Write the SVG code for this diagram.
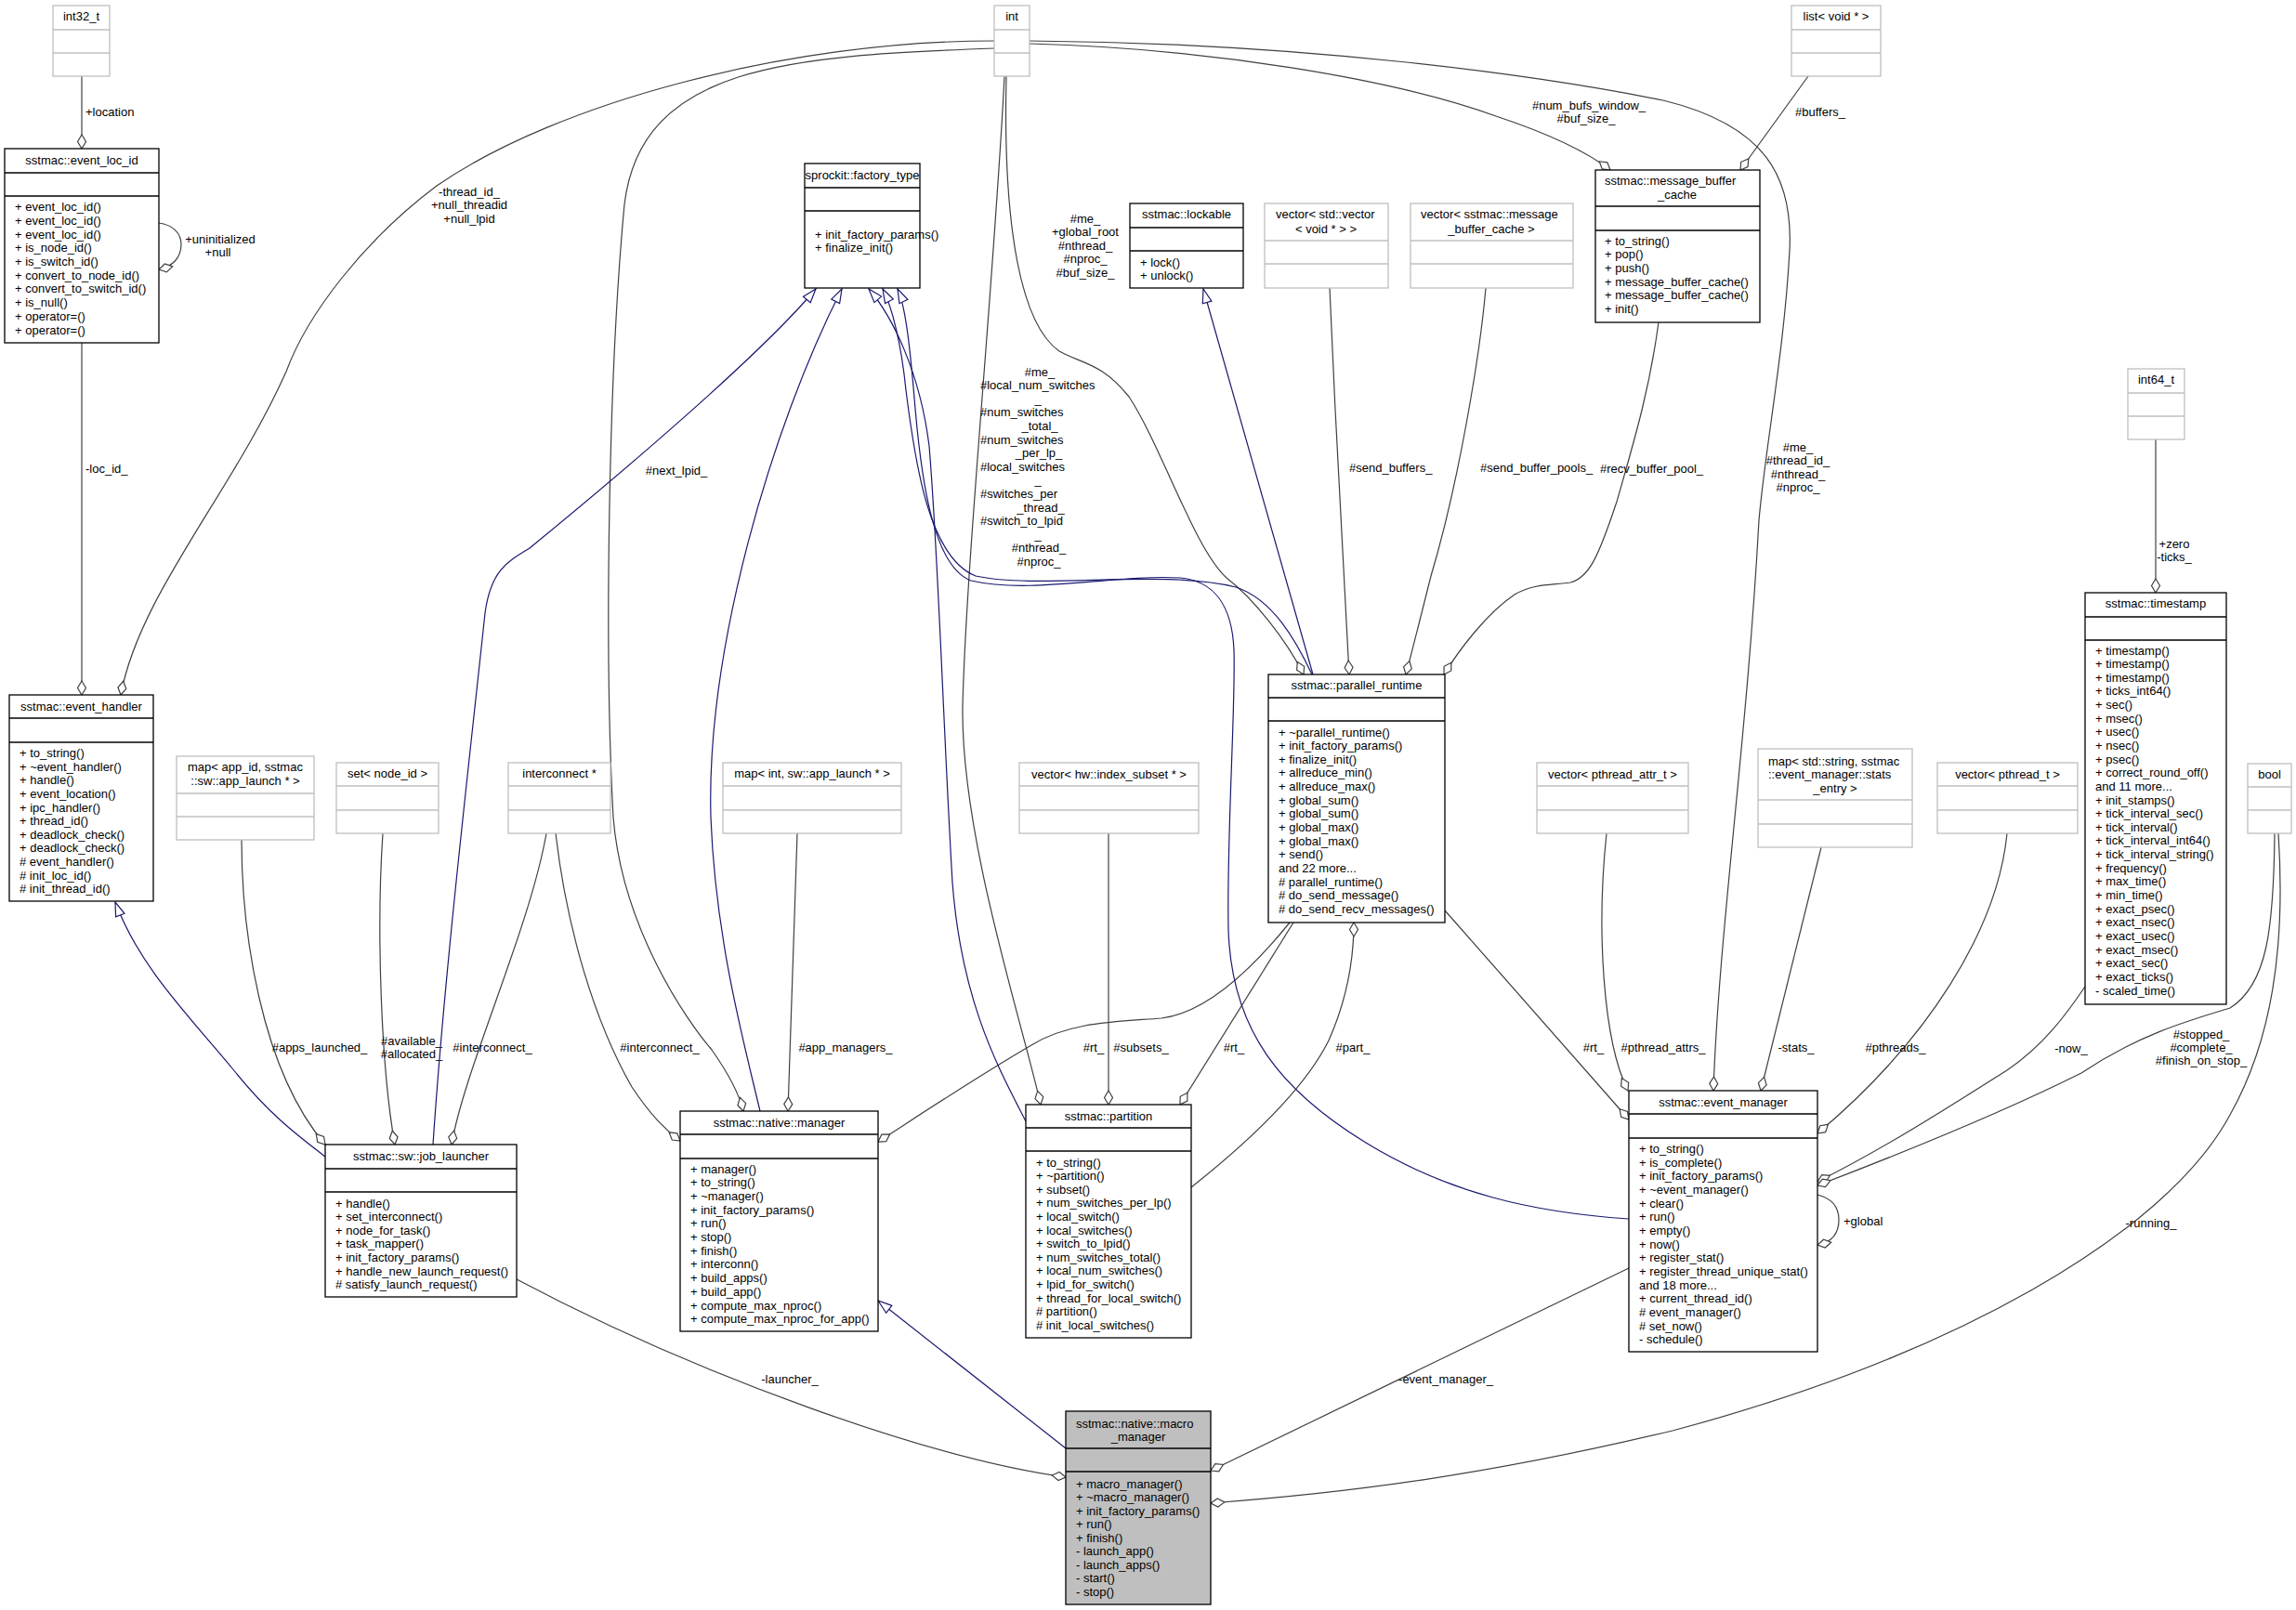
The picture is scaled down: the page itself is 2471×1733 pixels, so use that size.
<svg xmlns="http://www.w3.org/2000/svg" width="2471" height="1733" viewBox="0 0 2471 1733">
<defs>
<style>
.b{fill:#fff;stroke:#000;stroke-width:1.3}
.g{fill:#fff;stroke:#bfbfbf;stroke-width:1.3}
.bl{stroke:#000;stroke-width:1.3}
.gl{stroke:#bfbfbf;stroke-width:1.3}
text{font-family:"Liberation Sans",Arial,Helvetica,sans-serif;font-size:13px;fill:#000}
.c{text-anchor:middle}
.e{fill:none;stroke:#404040;stroke-width:1.2;marker-end:url(#d)}
.i{fill:none;stroke:#191970;stroke-width:1.2;marker-end:url(#a)}
</style>
<marker id="d" viewBox="0 -6 17 12" refX="16" refY="0" markerWidth="17" markerHeight="12" markerUnits="userSpaceOnUse" orient="auto"><path d="M1,0 L8.5,-4.5 L16,0 L8.5,4.5 Z" fill="#fff" stroke="#404040" stroke-width="1.2"/></marker>
<marker id="a" viewBox="0 -6 17 12" refX="16" refY="0" markerWidth="17" markerHeight="12" markerUnits="userSpaceOnUse" orient="auto"><path d="M1,-5 L16,0 L1,5 Z" fill="#fff" stroke="#191970" stroke-width="1.2"/></marker>
</defs>
<rect width="2471" height="1733" fill="#fff"/>
<g id="connectors">
<path class="e" d="M88,82 L88,160"/>
<text x="92" y="125">+location</text>
<path class="e" d="M171,240 C185,242 195,250 195,263 C195,278 185,287 171,290"/>
<text class="c" x="237" y="261.5">+uninitialized</text>
<text class="c" x="234.5" y="275.5">+null</text>
<path class="e" d="M88,369 L88,748"/>
<text x="92" y="508.5">-loc_id_</text>
<path class="e" d="M1070,44 C850,44 600,110 470,200 C390,260 330,340 308,400 C250,530 150,640 130,748"/>
<text class="c" x="505" y="210.5">-thread_id_</text>
<text class="c" x="505" y="225">+null_threadid</text>
<text class="c" x="505" y="239.5">+null_lpid</text>
<path class="e" d="M1070,52 C850,60 690,70 672,220 C655,400 650,700 660,880 C670,1000 740,1100 766,1130 C780,1150 795,1175 800,1196"/>
<text class="c" x="728" y="510.5">#next_lpid_</text>
<path class="e" d="M1081,82 C1070,300 1040,600 1036,760 C1034,900 1100,1100 1120,1189"/>
<text class="c" x="1119" y="404.5">#me_</text>
<text x="1055" y="419">#local_num_switches</text>
<text class="c" x="1117" y="433.5">_</text>
<text x="1055" y="448">#num_switches</text>
<text class="c" x="1119" y="463">_total_</text>
<text x="1055" y="477.5">#num_switches</text>
<text class="c" x="1118" y="492">_per_lp_</text>
<text x="1055" y="506.5">#local_switches</text>
<text class="c" x="1117" y="521">_</text>
<text x="1055" y="536">#switches_per</text>
<text class="c" x="1120" y="550.5">_thread_</text>
<text x="1055" y="565">#switch_to_lpid</text>
<text class="c" x="1117" y="579.5">_</text>
<text class="c" x="1118" y="594">#nthread_</text>
<text class="c" x="1118" y="609">#nproc_</text>
<path class="e" d="M1083,82 C1079,250 1100,350 1140,378 C1165,392 1185,390 1215,427 C1250,480 1285,590 1320,622 C1350,645 1385,690 1403,726"/>
<text class="c" x="1168" y="239.5">#me_</text>
<text class="c" x="1168" y="254">+global_root</text>
<text class="c" x="1168" y="268.5">#nthread_</text>
<text class="c" x="1168" y="283">#nproc_</text>
<text class="c" x="1168" y="297.5">#buf_size_</text>
<path class="e" d="M1108,44 C1400,46 1650,80 1790,108 C1900,135 1930,190 1926,270 C1920,380 1900,480 1893,560 C1880,800 1850,1000 1844,1174"/>
<text class="c" x="1935" y="485.5">#me_</text>
<text class="c" x="1935" y="500">#thread_id_</text>
<text class="c" x="1935" y="514.5">#nthread_</text>
<text class="c" x="1935" y="529">#nproc_</text>
<path class="e" d="M1108,47 C1300,52 1500,85 1610,125 C1670,145 1710,165 1733,183"/>
<text class="c" x="1710" y="117.5">#num_bufs_window_</text>
<text class="c" x="1707" y="131.5">#buf_size_</text>
<path class="e" d="M1946,82 L1873,183"/>
<text x="1932" y="124.5">#buffers_</text>
<path class="e" d="M1431,310 C1437,450 1445,600 1452,726"/>
<text x="1452" y="507.5">#send_buffers_</text>
<path class="e" d="M1599,310 C1593,380 1570,520 1540,620 C1530,660 1520,700 1513,726"/>
<text x="1593" y="507.5">#send_buffer_pools_</text>
<path class="e" d="M1785,347 C1775,420 1760,470 1740,540 C1720,600 1710,622 1690,627 C1670,630 1650,628 1630,640 C1600,660 1570,700 1554,726"/>
<text x="1722" y="508.5">#recv_buffer_pool_</text>
<path class="e" d="M2320,473 L2320,638"/>
<text class="c" x="2340" y="589.5">+zero</text>
<text class="c" x="2340" y="603.5">-ticks_</text>
<path class="e" d="M260,904 C260,1000 280,1150 350,1232"/>
<text class="c" x="344" y="1131.5">#apps_launched_</text>
<path class="e" d="M412,897 C405,1000 410,1150 425,1232"/>
<text class="c" x="443" y="1124.5">#available_</text>
<text class="c" x="443" y="1139">#allocated_</text>
<path class="e" d="M588,897 C570,1000 500,1150 486,1232"/>
<text class="c" x="530" y="1131.5">#interconnect_</text>
<path class="e" d="M598,897 C610,1000 640,1100 680,1170 C700,1200 715,1215 732,1228"/>
<text class="c" x="710" y="1131.5">#interconnect_</text>
<path class="e" d="M858,897 L848,1196"/>
<text class="c" x="910" y="1131.5">#app_managers_</text>
<path class="e" d="M1388,993 C1350,1040 1300,1090 1250,1096 C1200,1100 1150,1100 1110,1125 C1050,1160 990,1200 945,1229"/>
<text class="c" x="1177" y="1131.5">#rt_</text>
<path class="e" d="M1193,897 L1193,1189"/>
<text class="c" x="1228" y="1131.5">#subsets_</text>
<path class="e" d="M1392,993 L1270,1189"/>
<text class="c" x="1328" y="1131.5">#rt_</text>
<path class="e" d="M1282,1278 C1330,1240 1400,1180 1430,1120 C1450,1075 1457,1035 1457,993"/>
<text class="c" x="1456" y="1131.5">#part_</text>
<path class="e" d="M1555,980 L1753,1205"/>
<text class="c" x="1715" y="1131.5">#rt_</text>
<path class="e" d="M1729,897 C1718,1000 1725,1120 1752,1174"/>
<text class="c" x="1790" y="1131.5">#pthread_attrs_</text>
<path class="e" d="M1960,912 L1895,1174"/>
<text class="c" x="1933" y="1131.5">-stats_</text>
<path class="e" d="M2160,897 C2150,1000 2075,1120 1956,1220"/>
<text class="c" x="2040" y="1131.5">#pthreads_</text>
<path class="e" d="M2244,1062 C2225,1090 2200,1125 2160,1152 C2100,1190 2030,1235 1956,1272"/>
<text class="c" x="2229" y="1132.5">-now_</text>
<path class="e" d="M2448,897 C2447,1000 2440,1060 2400,1085 C2350,1100 2300,1115 2240,1155 C2150,1200 2050,1240 1956,1276"/>
<text class="c" x="2369" y="1117.5">#stopped_</text>
<text class="c" x="2369" y="1131.5">#complete_</text>
<text class="c" x="2369" y="1145.5">#finish_on_stop_</text>
<path class="e" d="M1956,1286 C1972,1290 1979,1300 1979,1313 C1979,1328 1972,1337 1956,1340"/>
<text x="1984" y="1318.5">+global</text>
<path class="e" d="M2452,897 C2460,1020 2445,1120 2400,1200 C2330,1330 2100,1460 1800,1540 C1600,1588 1450,1607 1303,1618"/>
<text class="c" x="2315" y="1320.5">-running_</text>
<path class="e" d="M1753,1365 L1303,1583"/>
<text class="c" x="1556" y="1488.5">-event_manager_</text>
<path class="e" d="M556,1377 C750,1480 1000,1570 1147,1590"/>
<text class="c" x="850" y="1488.5">-launcher_</text>
<path class="i" d="M350,1245 C320,1222 290,1200 250,1150 C200,1090 150,1040 124,971"/>
<path class="i" d="M466,1232 C478,1050 505,820 522,660 C528,615 545,605 570,590 C680,500 820,380 878,311"/>
<path class="i" d="M818,1196 C800,1120 770,1010 765,880 C760,700 830,460 906,311"/>
<path class="i" d="M1104,1207 C1075,1150 1035,1080 1025,950 C1015,780 1010,600 1000,480 C990,400 960,340 935,311"/>
<path class="i" d="M1412,726 C1395,690 1370,645 1330,632 C1250,612 1120,635 1050,620 C1000,600 985,500 975,420 C970,370 960,330 950,311"/>
<path class="i" d="M1753,1312 C1650,1305 1560,1285 1470,1230 C1380,1175 1325,1110 1322,1000 C1320,900 1330,760 1328,700 C1326,650 1305,625 1270,622 C1200,618 1110,640 1045,625 C1005,610 992,520 985,440 C980,380 975,330 966,311"/>
<path class="i" d="M1413,726 L1295,311"/>
<path class="i" d="M1147,1559 L945,1400"/>
</g>
<g id="int32_t"><rect class="g" x="57" y="6" width="61" height="76"/><line class="gl" x1="57" y1="32" x2="118" y2="32"/><line class="gl" x1="57" y1="57" x2="118" y2="57"/><text class="c" x="87.5" y="22">int32_t</text></g>
<g id="int"><rect class="g" x="1070" y="6" width="38" height="76"/><line class="gl" x1="1070" y1="32" x2="1108" y2="32"/><line class="gl" x1="1070" y1="57" x2="1108" y2="57"/><text class="c" x="1089" y="22">int</text></g>
<g id="list_void"><rect class="g" x="1928" y="6" width="96" height="76"/><line class="gl" x1="1928" y1="32" x2="2024" y2="32"/><line class="gl" x1="1928" y1="57" x2="2024" y2="57"/><text class="c" x="1976" y="22">list&lt; void * &gt;</text></g>
<g id="event_loc_id"><rect class="b" x="5" y="160" width="166" height="209"/><line class="bl" x1="5" y1="186" x2="171" y2="186"/><line class="bl" x1="5" y1="211" x2="171" y2="211"/><text class="c" x="88" y="177">sstmac::event_loc_id</text>
<text x="16" y="227.2">+ event_loc_id()<tspan x="16" dy="14.7">+ event_loc_id()</tspan><tspan x="16" dy="14.7">+ event_loc_id()</tspan><tspan x="16" dy="14.7">+ is_node_id()</tspan><tspan x="16" dy="14.7">+ is_switch_id()</tspan><tspan x="16" dy="14.7">+ convert_to_node_id()</tspan><tspan x="16" dy="14.7">+ convert_to_switch_id()</tspan><tspan x="16" dy="14.7">+ is_null()</tspan><tspan x="16" dy="14.7">+ operator=()</tspan><tspan x="16" dy="14.7">+ operator=()</tspan></text></g>
<g id="factory_type"><rect class="b" x="866" y="176" width="124" height="134"/><line class="bl" x1="866" y1="202" x2="990" y2="202"/><line class="bl" x1="866" y1="227" x2="990" y2="227"/><text class="c" x="928" y="193">sprockit::factory_type</text>
<text x="877" y="256.5">+ init_factory_params()<tspan x="877" dy="14.65">+ finalize_init()</tspan></text></g>
<g id="lockable"><rect class="b" x="1216" y="219" width="122" height="91"/><line class="bl" x1="1216" y1="245" x2="1338" y2="245"/><line class="bl" x1="1216" y1="270" x2="1338" y2="270"/><text class="c" x="1277" y="234.5">sstmac::lockable</text>
<text x="1227" y="286.5">+ lock()<tspan x="1227" dy="14.65">+ unlock()</tspan></text></g>
<g id="vector_vector_void"><rect class="g" x="1361" y="219" width="133" height="91"/><line class="gl" x1="1361" y1="259" x2="1494" y2="259"/><line class="gl" x1="1361" y1="284" x2="1494" y2="284"/><text x="1373" y="235">vector&lt; std::vector</text><text class="c" x="1427" y="250.5">&lt; void * &gt; &gt;</text></g>
<g id="vector_mbc"><rect class="g" x="1518" y="219" width="175" height="91"/><line class="gl" x1="1518" y1="259" x2="1693" y2="259"/><line class="gl" x1="1518" y1="284" x2="1693" y2="284"/><text x="1529" y="235">vector&lt; sstmac::message</text><text class="c" x="1605" y="250.5">_buffer_cache &gt;</text></g>
<g id="message_buffer_cache"><rect class="b" x="1717" y="183" width="177" height="164"/><line class="bl" x1="1717" y1="222" x2="1894" y2="222"/><line class="bl" x1="1717" y1="248" x2="1894" y2="248"/><text x="1727" y="198.5">sstmac::message_buffer</text><text class="c" x="1805" y="213.5">_cache</text>
<text x="1727" y="263.5">+ to_string()<tspan x="1727" dy="14.7">+ pop()</tspan><tspan x="1727" dy="14.7">+ push()</tspan><tspan x="1727" dy="14.7">+ message_buffer_cache()</tspan><tspan x="1727" dy="14.7">+ message_buffer_cache()</tspan><tspan x="1727" dy="14.7">+ init()</tspan></text></g>
<g id="int64_t"><rect class="g" x="2290" y="397" width="61" height="76"/><line class="gl" x1="2290" y1="423" x2="2351" y2="423"/><line class="gl" x1="2290" y1="448" x2="2351" y2="448"/><text class="c" x="2320.5" y="413">int64_t</text></g>
<g id="timestamp"><rect class="b" x="2244" y="638" width="152" height="443"/><line class="bl" x1="2244" y1="664" x2="2396" y2="664"/><line class="bl" x1="2244" y1="689" x2="2396" y2="689"/><text class="c" x="2320" y="654">sstmac::timestamp</text>
<text x="2255" y="704.5">+ timestamp()<tspan x="2255" dy="14.64">+ timestamp()</tspan><tspan x="2255" dy="14.64">+ timestamp()</tspan><tspan x="2255" dy="14.64">+ ticks_int64()</tspan><tspan x="2255" dy="14.64">+ sec()</tspan><tspan x="2255" dy="14.64">+ msec()</tspan><tspan x="2255" dy="14.64">+ usec()</tspan><tspan x="2255" dy="14.64">+ nsec()</tspan><tspan x="2255" dy="14.64">+ psec()</tspan><tspan x="2255" dy="14.64">+ correct_round_off()</tspan><tspan x="2255" dy="14.64">and 11 more...</tspan><tspan x="2255" dy="14.64">+ init_stamps()</tspan><tspan x="2255" dy="14.64">+ tick_interval_sec()</tspan><tspan x="2255" dy="14.64">+ tick_interval()</tspan><tspan x="2255" dy="14.64">+ tick_interval_int64()</tspan><tspan x="2255" dy="14.64">+ tick_interval_string()</tspan><tspan x="2255" dy="14.64">+ frequency()</tspan><tspan x="2255" dy="14.64">+ max_time()</tspan><tspan x="2255" dy="14.64">+ min_time()</tspan><tspan x="2255" dy="14.64">+ exact_psec()</tspan><tspan x="2255" dy="14.64">+ exact_nsec()</tspan><tspan x="2255" dy="14.64">+ exact_usec()</tspan><tspan x="2255" dy="14.64">+ exact_msec()</tspan><tspan x="2255" dy="14.64">+ exact_sec()</tspan><tspan x="2255" dy="14.64">+ exact_ticks()</tspan><tspan x="2255" dy="14.64">- scaled_time()</tspan></text></g>
<g id="bool"><rect class="g" x="2419" y="822" width="47" height="75"/><line class="gl" x1="2419" y1="847" x2="2466" y2="847"/><line class="gl" x1="2419" y1="872" x2="2466" y2="872"/><text class="c" x="2442.5" y="837.5">bool</text></g>
<g id="event_handler"><rect class="b" x="10" y="748" width="155" height="222"/><line class="bl" x1="10" y1="773" x2="165" y2="773"/><line class="bl" x1="10" y1="799" x2="165" y2="799"/><text class="c" x="87.5" y="764.5">sstmac::event_handler</text>
<text x="21" y="815.2">+ to_string()<tspan x="21" dy="14.6">+ ~event_handler()</tspan><tspan x="21" dy="14.6">+ handle()</tspan><tspan x="21" dy="14.6">+ event_location()</tspan><tspan x="21" dy="14.6">+ ipc_handler()</tspan><tspan x="21" dy="14.6">+ thread_id()</tspan><tspan x="21" dy="14.6">+ deadlock_check()</tspan><tspan x="21" dy="14.6">+ deadlock_check()</tspan><tspan x="21" dy="14.6"># event_handler()</tspan><tspan x="21" dy="14.6"># init_loc_id()</tspan><tspan x="21" dy="14.6"># init_thread_id()</tspan></text></g>
<g id="map_app_launch"><rect class="g" x="190" y="814" width="148" height="90"/><line class="gl" x1="190" y1="854" x2="338" y2="854"/><line class="gl" x1="190" y1="879" x2="338" y2="879"/><text x="202" y="830">map&lt; app_id, sstmac</text><text class="c" x="264" y="845">::sw::app_launch * &gt;</text></g>
<g id="set_node_id"><rect class="g" x="362" y="821" width="110" height="76"/><line class="gl" x1="362" y1="846" x2="472" y2="846"/><line class="gl" x1="362" y1="872" x2="472" y2="872"/><text class="c" x="417" y="837">set&lt; node_id &gt;</text></g>
<g id="interconnect"><rect class="g" x="547" y="821" width="110" height="76"/><line class="gl" x1="547" y1="846" x2="657" y2="846"/><line class="gl" x1="547" y1="872" x2="657" y2="872"/><text class="c" x="602" y="837">interconnect *</text></g>
<g id="map_int_app_launch"><rect class="g" x="778" y="821" width="192" height="76"/><line class="gl" x1="778" y1="846" x2="970" y2="846"/><line class="gl" x1="778" y1="872" x2="970" y2="872"/><text class="c" x="874" y="837">map&lt; int, sw::app_launch * &gt;</text></g>
<g id="vector_index_subset"><rect class="g" x="1097" y="821" width="193" height="76"/><line class="gl" x1="1097" y1="846" x2="1290" y2="846"/><line class="gl" x1="1097" y1="872" x2="1290" y2="872"/><text class="c" x="1193.5" y="837.5">vector&lt; hw::index_subset * &gt;</text></g>
<g id="parallel_runtime"><rect class="b" x="1365" y="726" width="190" height="267"/><line class="bl" x1="1365" y1="751" x2="1555" y2="751"/><line class="bl" x1="1365" y1="776" x2="1555" y2="776"/><text class="c" x="1460" y="742">sstmac::parallel_runtime</text>
<text x="1376" y="792.5">+ ~parallel_runtime()<tspan x="1376" dy="14.66">+ init_factory_params()</tspan><tspan x="1376" dy="14.66">+ finalize_init()</tspan><tspan x="1376" dy="14.66">+ allreduce_min()</tspan><tspan x="1376" dy="14.66">+ allreduce_max()</tspan><tspan x="1376" dy="14.66">+ global_sum()</tspan><tspan x="1376" dy="14.66">+ global_sum()</tspan><tspan x="1376" dy="14.66">+ global_max()</tspan><tspan x="1376" dy="14.66">+ global_max()</tspan><tspan x="1376" dy="14.66">+ send()</tspan><tspan x="1376" dy="14.66">and 22 more...</tspan><tspan x="1376" dy="14.66"># parallel_runtime()</tspan><tspan x="1376" dy="14.66"># do_send_message()</tspan><tspan x="1376" dy="14.66"># do_send_recv_messages()</tspan></text></g>
<g id="vector_pthread_attr"><rect class="g" x="1654" y="821" width="163" height="76"/><line class="gl" x1="1654" y1="846" x2="1817" y2="846"/><line class="gl" x1="1654" y1="872" x2="1817" y2="872"/><text class="c" x="1735.5" y="837.5">vector&lt; pthread_attr_t &gt;</text></g>
<g id="map_stats"><rect class="g" x="1892" y="806" width="166" height="106"/><line class="gl" x1="1892" y1="861" x2="2058" y2="861"/><line class="gl" x1="1892" y1="887" x2="2058" y2="887"/><text x="1903" y="823.5">map&lt; std::string, sstmac</text><text x="1903" y="838">::event_manager::stats</text><text class="c" x="1975" y="852.5">_entry &gt;</text></g>
<g id="vector_pthread"><rect class="g" x="2085" y="821" width="151" height="76"/><line class="gl" x1="2085" y1="846" x2="2236" y2="846"/><line class="gl" x1="2085" y1="872" x2="2236" y2="872"/><text class="c" x="2160.5" y="837.5">vector&lt; pthread_t &gt;</text></g>
<g id="job_launcher"><rect class="b" x="350" y="1232" width="206" height="164"/><line class="bl" x1="350" y1="1258" x2="556" y2="1258"/><line class="bl" x1="350" y1="1283" x2="556" y2="1283"/><text class="c" x="453" y="1248.5">sstmac::sw::job_launcher</text>
<text x="361" y="1299.5">+ handle()<tspan x="361" dy="14.6">+ set_interconnect()</tspan><tspan x="361" dy="14.6">+ node_for_task()</tspan><tspan x="361" dy="14.6">+ task_mapper()</tspan><tspan x="361" dy="14.6">+ init_factory_params()</tspan><tspan x="361" dy="14.6">+ handle_new_launch_request()</tspan><tspan x="361" dy="14.6"># satisfy_launch_request()</tspan></text></g>
<g id="native_manager"><rect class="b" x="732" y="1196" width="213" height="237"/><line class="bl" x1="732" y1="1221" x2="945" y2="1221"/><line class="bl" x1="732" y1="1247" x2="945" y2="1247"/><text class="c" x="838.5" y="1212.5">sstmac::native::manager</text>
<text x="743" y="1262.5">+ manager()<tspan x="743" dy="14.7">+ to_string()</tspan><tspan x="743" dy="14.7">+ ~manager()</tspan><tspan x="743" dy="14.7">+ init_factory_params()</tspan><tspan x="743" dy="14.7">+ run()</tspan><tspan x="743" dy="14.7">+ stop()</tspan><tspan x="743" dy="14.7">+ finish()</tspan><tspan x="743" dy="14.7">+ interconn()</tspan><tspan x="743" dy="14.7">+ build_apps()</tspan><tspan x="743" dy="14.7">+ build_app()</tspan><tspan x="743" dy="14.7">+ compute_max_nproc()</tspan><tspan x="743" dy="14.7">+ compute_max_nproc_for_app()</tspan></text></g>
<g id="partition"><rect class="b" x="1104" y="1189" width="178" height="251"/><line class="bl" x1="1104" y1="1214" x2="1282" y2="1214"/><line class="bl" x1="1104" y1="1239" x2="1282" y2="1239"/><text class="c" x="1193" y="1205.5">sstmac::partition</text>
<text x="1115" y="1255.5">+ to_string()<tspan x="1115" dy="14.6">+ ~partition()</tspan><tspan x="1115" dy="14.6">+ subset()</tspan><tspan x="1115" dy="14.6">+ num_switches_per_lp()</tspan><tspan x="1115" dy="14.6">+ local_switch()</tspan><tspan x="1115" dy="14.6">+ local_switches()</tspan><tspan x="1115" dy="14.6">+ switch_to_lpid()</tspan><tspan x="1115" dy="14.6">+ num_switches_total()</tspan><tspan x="1115" dy="14.6">+ local_num_switches()</tspan><tspan x="1115" dy="14.6">+ lpid_for_switch()</tspan><tspan x="1115" dy="14.6">+ thread_for_local_switch()</tspan><tspan x="1115" dy="14.6"># partition()</tspan><tspan x="1115" dy="14.6"># init_local_switches()</tspan></text></g>
<g id="event_manager"><rect class="b" x="1753" y="1174" width="203" height="281"/><line class="bl" x1="1753" y1="1199" x2="1956" y2="1199"/><line class="bl" x1="1753" y1="1225" x2="1956" y2="1225"/><text class="c" x="1854.5" y="1190.5">sstmac::event_manager</text>
<text x="1764" y="1241.2">+ to_string()<tspan x="1764" dy="14.64">+ is_complete()</tspan><tspan x="1764" dy="14.64">+ init_factory_params()</tspan><tspan x="1764" dy="14.64">+ ~event_manager()</tspan><tspan x="1764" dy="14.64">+ clear()</tspan><tspan x="1764" dy="14.64">+ run()</tspan><tspan x="1764" dy="14.64">+ empty()</tspan><tspan x="1764" dy="14.64">+ now()</tspan><tspan x="1764" dy="14.64">+ register_stat()</tspan><tspan x="1764" dy="14.64">+ register_thread_unique_stat()</tspan><tspan x="1764" dy="14.64">and 18 more...</tspan><tspan x="1764" dy="14.64">+ current_thread_id()</tspan><tspan x="1764" dy="14.64"># event_manager()</tspan><tspan x="1764" dy="14.64"># set_now()</tspan><tspan x="1764" dy="14.64">- schedule()</tspan></text></g>
<g id="macro_manager"><rect x="1147" y="1519" width="156" height="208" fill="#bfbfbf" stroke="#000" stroke-width="1.3"/><line class="bl" x1="1147" y1="1559" x2="1303" y2="1559"/><line class="bl" x1="1147" y1="1584" x2="1303" y2="1584"/><text x="1158" y="1536.5">sstmac::native::macro</text><text class="c" x="1225" y="1550.5">_manager</text>
<text x="1158" y="1601.5">+ macro_manager()<tspan x="1158" dy="14.5">+ ~macro_manager()</tspan><tspan x="1158" dy="14.5">+ init_factory_params()</tspan><tspan x="1158" dy="14.5">+ run()</tspan><tspan x="1158" dy="14.5">+ finish()</tspan><tspan x="1158" dy="14.5">- launch_app()</tspan><tspan x="1158" dy="14.5">- launch_apps()</tspan><tspan x="1158" dy="14.5">- start()</tspan><tspan x="1158" dy="14.5">- stop()</tspan></text></g>
</svg>
